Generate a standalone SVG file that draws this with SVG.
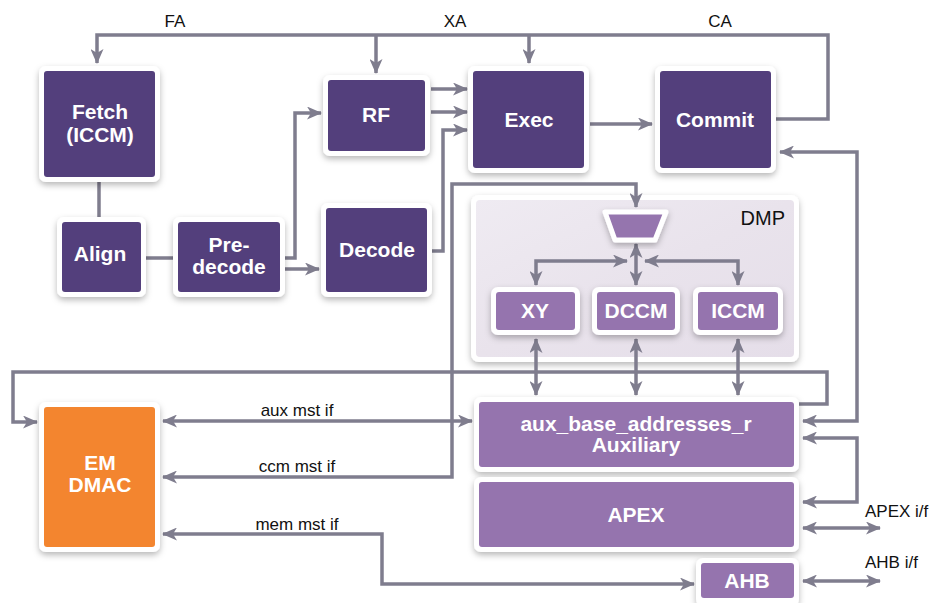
<svg xmlns="http://www.w3.org/2000/svg" width="943" height="603" viewBox="0 0 943 603">
<defs>
<filter id="sh" x="-20%" y="-20%" width="140%" height="150%">
<feDropShadow dx="0" dy="3" stdDeviation="3" flood-color="#000" flood-opacity="0.28"/>
</filter>
<linearGradient id="dmpg" x1="0" y1="0" x2="1" y2="1">
<stop offset="0" stop-color="#EFEBF2"/>
<stop offset="0.5" stop-color="#E9E3EC"/>
<stop offset="1" stop-color="#E5DEE9"/>
</linearGradient>
<marker id="ah" viewBox="0 0 15 13" refX="14" refY="6.5" markerWidth="15" markerHeight="13" markerUnits="userSpaceOnUse" orient="auto-start-reverse">
<path d="M0,0 L15,6.5 L0,13 L4,6.5 z" fill="#7F7D8E"/>
</marker>
</defs>
<style>
.frame{fill:#FFFFFF;filter:url(#sh)}
.dark{fill:#533F7C}
.light{fill:#9574AE}
.orange{fill:#F3852F}
.bt{font-family:"Liberation Sans",Arial,sans-serif;font-weight:bold;font-size:21px;fill:#FFFFFF;text-anchor:middle}
.lt{font-family:"Liberation Sans",Arial,sans-serif;font-size:17px;fill:#111111}
.c{fill:none;stroke:#7F7D8E;stroke-width:3.5;stroke-linejoin:miter}
.a2{marker-start:url(#ah);marker-end:url(#ah)}
.a1{marker-end:url(#ah)}
</style>

<g id="dmp">
<rect class="frame" x="471" y="195" width="328" height="167" rx="8"/>
<rect x="476" y="200" width="318" height="157" rx="4" fill="url(#dmpg)"/>
<text x="785" y="225" font-family="Liberation Sans,Arial,sans-serif" font-size="20" fill="#111" text-anchor="end">DMP</text>
</g>

<g id="connectors">
<path class="c" d="M776,119 L828,119 L828,35 L97,35 L97,63" marker-end="url(#ah)"/>
<path class="c a1" d="M376,35 L376,73"/>
<path class="c a1" d="M529,35 L529,63"/>
<path class="c" d="M99,182 L99,217"/>
<path class="c" d="M146,258 L173,258"/>
<path class="c a1" d="M285,258 L295,258 L295,113 L321,113"/>
<path class="c a1" d="M285,269 L319,269"/>
<path class="c a1" d="M431,89 L467,89"/>
<path class="c a1" d="M431,112 L467,112"/>
<path class="c a1" d="M432,251 L443,251 L443,130 L467,130"/>
<path class="c a1" d="M590,124 L652,124"/>
<path class="c a2" d="M163,477 L452,477 L452,184 L636,184 L636,207"/>
<path class="c a1" d="M799,404 L827,404 L827,372 L13,372 L13,422 L37,422"/>
<path class="c a2" d="M163,421 L472,421"/>
<path class="c a2" d="M163,534 L382,534 L382,584 L694,584"/>
<path class="c a2" d="M636,244 L636,285"/>
<path class="c a2" d="M627,261 L536,261 L536,285"/>
<path class="c a2" d="M645,261 L738,261 L738,285"/>
<path class="c a2" d="M536,339 L536,395"/>
<path class="c a2" d="M636,339 L636,395"/>
<path class="c a2" d="M738,339 L738,395"/>
<path class="c a2" d="M780,152 L857,152 L857,421 L803,421"/>
<path class="c a2" d="M803,438 L857,438 L857,502 L803,502"/>
<path class="c a2" d="M803,528 L880,528"/>
<path class="c a2" d="M803,581 L880,581"/>
</g>

<g id="labels">
<text class="lt" x="175" y="27" text-anchor="middle">FA</text>
<text class="lt" x="455" y="27" text-anchor="middle">XA</text>
<text class="lt" x="720" y="27" text-anchor="middle">CA</text>
<text class="lt" x="297" y="416" text-anchor="middle">aux mst if</text>
<text class="lt" x="297" y="472" text-anchor="middle">ccm mst if</text>
<text class="lt" x="297" y="530" text-anchor="middle">mem mst if</text>
<text class="lt" x="865" y="517">APEX i/f</text>
<text class="lt" x="865" y="568">AHB i/f</text>
</g>

<g id="fetch">
<rect class="frame" x="39" y="66" width="121" height="116" rx="7"/>
<rect class="dark" x="44" y="71" width="111" height="106" rx="3"/>
<text class="bt" x="100" y="119">Fetch</text>
<text class="bt" x="100" y="142">(ICCM)</text>
</g>
<g id="rf">
<rect class="frame" x="323" y="75" width="107" height="81" rx="7"/>
<rect class="dark" x="328" y="80" width="97" height="71" rx="3"/>
<text class="bt" x="376" y="122">RF</text>
</g>
<g id="exec">
<rect class="frame" x="468" y="66" width="121" height="107" rx="7"/>
<rect class="dark" x="473" y="71" width="111" height="97" rx="3"/>
<text class="bt" x="529" y="127">Exec</text>
</g>
<g id="commit">
<rect class="frame" x="655" y="66" width="121" height="107" rx="7"/>
<rect class="dark" x="660" y="71" width="111" height="97" rx="3"/>
<text class="bt" x="715" y="127">Commit</text>
</g>
<g id="align">
<rect class="frame" x="57" y="217" width="89" height="80" rx="7"/>
<rect class="dark" x="62" y="222" width="79" height="70" rx="3"/>
<text class="bt" x="100" y="261">Align</text>
</g>
<g id="predecode">
<rect class="frame" x="173" y="217" width="112" height="80" rx="7"/>
<rect class="dark" x="178" y="222" width="102" height="70" rx="3"/>
<text class="bt" x="229" y="252">Pre-</text>
<text class="bt" x="229" y="274">decode</text>
</g>
<g id="decode">
<rect class="frame" x="321" y="203" width="111" height="94" rx="7"/>
<rect class="dark" x="326" y="208" width="101" height="84" rx="3"/>
<text class="bt" x="377" y="257">Decode</text>
</g>
<g id="mux">
<path d="M605,212 L666,212 L655,240 L615,240 Z" fill="#9574AE" stroke="#FFFFFF" stroke-width="5" stroke-linejoin="round" filter="url(#sh)"/>
</g>
<g id="xy">
<rect class="frame" x="491" y="287" width="89" height="48" rx="7"/>
<rect class="light" x="496" y="292" width="79" height="38" rx="3"/>
<text class="bt" x="535" y="318">XY</text>
</g>
<g id="dccm">
<rect class="frame" x="592" y="287" width="88" height="48" rx="7"/>
<rect class="light" x="597" y="292" width="78" height="38" rx="3"/>
<text class="bt" x="636" y="318">DCCM</text>
</g>
<g id="iccm">
<rect class="frame" x="693" y="287" width="90" height="48" rx="7"/>
<rect class="light" x="698" y="292" width="80" height="38" rx="3"/>
<text class="bt" x="738" y="318">ICCM</text>
</g>
<g id="aux">
<rect class="frame" x="474" y="397" width="325" height="75" rx="7"/>
<rect class="light" x="479" y="402" width="315" height="65" rx="3"/>
<text class="bt" x="636" y="431">aux_base_addresses_r</text>
<text class="bt" x="636" y="452">Auxiliary</text>
</g>
<g id="apex">
<rect class="frame" x="474" y="477" width="325" height="75" rx="7"/>
<rect class="light" x="479" y="482" width="315" height="65" rx="3"/>
<text class="bt" x="636" y="522">APEX</text>
</g>
<g id="ahb">
<rect class="frame" x="696" y="558" width="103" height="48" rx="7"/>
<rect class="light" x="701" y="563" width="93" height="35" rx="3"/>
<text class="bt" x="747" y="588">AHB</text>
</g>
<g id="dmac">
<rect class="frame" x="39" y="402" width="121" height="150" rx="7"/>
<rect class="orange" x="44" y="407" width="111" height="140" rx="3"/>
<text class="bt" x="100" y="470">EM</text>
<text class="bt" x="100" y="492">DMAC</text>
</g>
</svg>
